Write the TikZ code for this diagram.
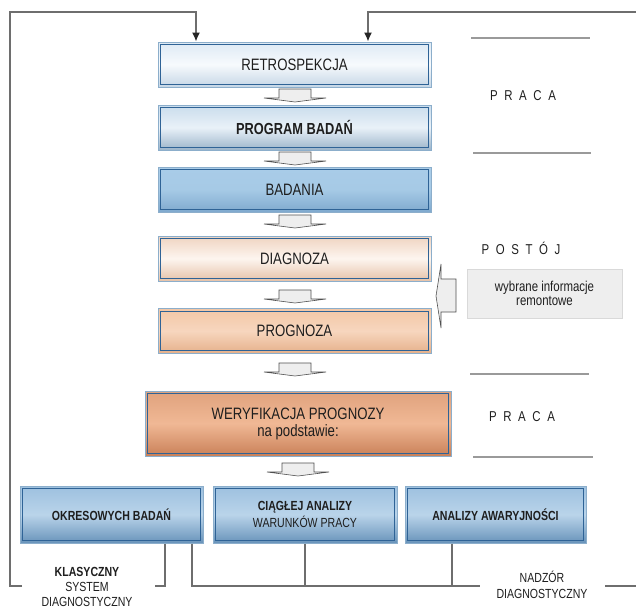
\documentclass[tikz,border=0pt]{standalone}
\usepackage{fontspec}
\setmainfont{Liberation Sans}[FakeStretch=0.8]
\usetikzlibrary{positioning,arrows.meta,arrows}

\definecolor{frameout}{HTML}{8CAECB}
\definecolor{frameinn}{HTML}{2F6396}
\definecolor{linegray}{HTML}{6E6E6E}
\definecolor{sidegray}{HTML}{9A9A9A}
\definecolor{arrfill}{HTML}{EEEEEE}
\definecolor{arrline}{HTML}{505050}
\definecolor{textgray}{HTML}{1E1E1E}
\definecolor{retrot}{HTML}{DDE9F4}
\definecolor{retrom}{HTML}{F7FAFD}
\definecolor{retrob}{HTML}{C5D6E6}
\definecolor{progt}{HTML}{C9DCEC}
\definecolor{progm}{HTML}{E9F1F8}
\definecolor{progb}{HTML}{9BB4CA}
\definecolor{badt}{HTML}{A9CCE8}
\definecolor{badm}{HTML}{A6CAE6}
\definecolor{badb}{HTML}{7FA9CE}
\definecolor{diagt}{HTML}{EFD3C0}
\definecolor{diagm}{HTML}{FDF5EF}
\definecolor{diagb}{HTML}{E6C2A8}
\definecolor{prognt}{HTML}{F2C7A6}
\definecolor{prognm}{HTML}{F7D6BE}
\definecolor{prognb}{HTML}{E5B08A}
\definecolor{weryt}{HTML}{E0A27D}
\definecolor{werym}{HTML}{F0B895}
\definecolor{weryb}{HTML}{C98058}
\definecolor{baset}{HTML}{9DC0DF}
\definecolor{basem}{HTML}{BAD4EA}
\definecolor{baseb}{HTML}{6893BA}

\tikzset{
boxframe/.style={
  draw=frameout,
  line width=1pt,
  inner sep=0pt,
  align=center,
  text=textgray,
  path picture={\draw[frameinn,line width=1.3pt]
    ([xshift=2.7pt,yshift=-2.7pt]path picture bounding box.north west) rectangle
    ([xshift=-2.7pt,yshift=2.7pt]path picture bounding box.south east);}
  },
shadebox/.style n args={3}{
  boxframe,
  top color=#1,
  bottom color=#3,
  middle color=#2
  },
chainbox/.style={
  minimum width=273pt,
  minimum height=45pt,
  font=\fontsize{16.5}{17}\selectfont
  },
basebox/.style={
  shadebox={baset}{basem}{baseb},
  minimum width=183pt,
  minimum height=57pt,
  font=\fontsize{13.2}{17}\selectfont
  },
infobox/.style={
  draw=black!15,
  fill=arrfill,
  line width=1pt,
  minimum width=155pt,
  minimum height=49pt,
  align=center,
  text=textgray,
  font=\fontsize{14.3}{14}\selectfont
  },
sidetext/.style={
  text=textgray,
  font=\fontsize{14.3}{15}\selectfont,
  execute at begin node={\spaceskip=6.6pt\relax}
  },
sideline/.style={draw=sidegray,line width=2.2pt},
frameline/.style={draw=linegray,line width=1.3pt},
loopline/.style={frameline,-{Latex[length=9pt,width=8pt,color=black!85]}},
blockarr/.style={fill=arrfill,draw=arrline,line width=0.6pt}
}

\newcommand\flowdown[2]{%
  \filldraw[blockarr] (#1-16,#2) -- (#1+16,#2) -- (#1+16,#2+9)
    -- (#1+31,#2+9) -- (#1,#2+13) -- (#1-31,#2+9) -- (#1-16,#2+9) -- cycle;}

\begin{document}
\begin{tikzpicture}[x=1pt,y=-1pt]
\useasboundingbox (0,0) rectangle (636,608);

\node[chainbox,shadebox={retrot}{retrom}{retrob}] (retro) at (294.5,64.5) {RETROSPEKCJA};
\node[chainbox,shadebox={progt}{progm}{progb},font=\fontsize{16}{17}\selectfont\bfseries] (program) at (294.5,127.5) {PROGRAM BADAŃ};
\node[chainbox,shadebox={badt}{badm}{badb}] (badania) at (294.5,189.5) {BADANIA};
\node[chainbox,shadebox={diagt}{diagm}{diagb}] (diagnoza) at (294.5,258.5) {DIAGNOZA};
\node[chainbox,shadebox={prognt}{prognm}{prognb}] (prognoza) at (294.5,331) {PROGNOZA};
\node[chainbox,shadebox={weryt}{werym}{weryb},minimum width=306pt,minimum height=65pt] (weryf) at (298,423.5) {WERYFIKACJA PROGNOZY\\na podstawie:};

\node[basebox] (okres) at (111.5,514.5) {\bfseries OKRESOWYCH BADAŃ};
\node[basebox,minimum width=184pt] (ciagla) at (305,514.5) {\bfseries CIĄGŁEJ ANALIZY\\WARUNKÓW PRACY};
\node[basebox,minimum width=181pt] (awar) at (495.5,514.5) {\bfseries ANALIZY AWARYJNOŚCI};

\flowdown{295}{89}
\flowdown{295}{152}
\flowdown{295}{215}
\flowdown{295}{290}
\flowdown{295}{363}
\flowdown{298}{463}

% right column
\node[sidetext] (praca1) at (523,96) {P R A C A};
\node[sidetext] (postoj) at (521,248) {P O S T Ó J};
\node[infobox] (info) at (544.5,293.5) {wybrane informacje\\remontowe};
\node[sidetext] (praca2) at (522,417) {P R A C A};
\draw[sideline] (471,38) -- (590,38);
\draw[sideline] (473,153) -- (591,153);
\draw[sideline] (470,374) -- (589,374);
\draw[sideline] (473,457) -- (593,457);
\filldraw[blockarr] (456,279) -- (441,279) -- (441,264) -- (436,296)
  -- (441,328) -- (441,312) -- (456,312) -- cycle;

% labels under the boxes
\node[align=center,text=textgray,font=\fontsize{13.2}{15}\selectfont] (klas) at (87,587) {\bfseries KLASYCZNY\\SYSTEM\\DIAGNOSTYCZNY};
\node[align=center,text=textgray,font=\fontsize{13.2}{16}\selectfont] (nadzor) at (542,585) {NADZÓR\\DIAGNOSTYCZNY};

\coordinate (klasR) at (165,586);
\coordinate (klasL) at (22,586);
\coordinate (nadzL) at (192,586);
\coordinate (nadzM) at (480,586);
\coordinate (nadzR) at (605,586);
\coordinate (awarT) at (452,586);
\coordinate (loopL) at (10,12);
\coordinate (inL) at (196,12);
\coordinate (inR) at (368,12);
\coordinate (loopR) at (648,12);

\draw[frameline] (okres.south -| klasR) -- (klasR) -- ++(-10,0);
\draw[loopline] (klasL) -- (klasL -| loopL) -- (loopL) -- (inL) -- (retro.north -| inL);
\draw[frameline] (okres.south -| nadzL) -- (nadzL) -- (nadzM);
\draw[frameline] (ciagla.south) -- (ciagla.south |- nadzL);
\draw[frameline] (awar.south -| awarT) -- (awarT);
\draw[loopline] (nadzR) -- (nadzR -| loopR) -- (loopR) -- (inR) -- (retro.north -| inR);
\end{tikzpicture}
\end{document}
